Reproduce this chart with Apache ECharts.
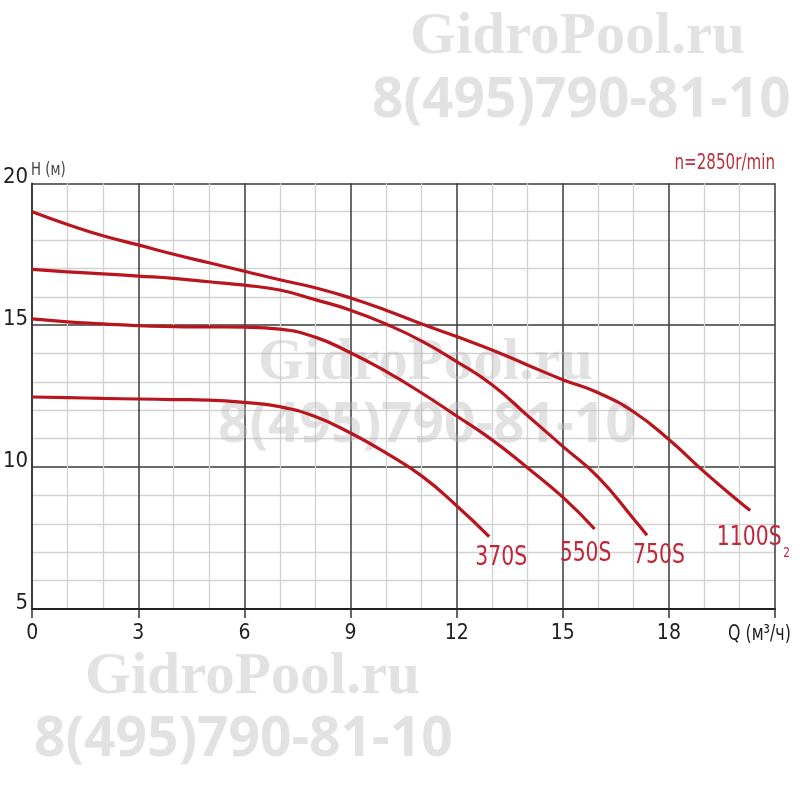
<!DOCTYPE html>
<html>
<head>
<meta charset="utf-8">
<script src="https://cdn.jsdelivr.net/npm/echarts@6/dist/echarts.min.js"></script>
<style>html,body{margin:0;padding:0;background:#fff}#c{width:800px;height:800px}</style>
</head>
<body>
<div id="c"></div>
<script>
// Q (m3/h), H (m)
var s1100 = [[0,19.0],[1,18.55],[2,18.15],[3,17.83],[4,17.5],[5,17.2],[6,16.9],[7,16.6],[8,16.32],[9,15.96],[10,15.53],[11,15.05],[12,14.6],[13,14.13],[14,13.6],[15,13.08],[16,12.62],[17,11.95],[18,10.97],[19,9.83],[20,8.77],[20.3,8.47]];
var s750 = [[0,16.97],[1,16.88],[2,16.81],[3,16.73],[4,16.65],[5,16.53],[6,16.41],[7,16.24],[8,15.9],[9,15.53],[10,15.04],[11,14.45],[12,13.72],[13,12.9],[14,11.82],[15,10.73],[16,9.65],[17,8.18],[17.38,7.6]];
var s550 = [[0,15.22],[1,15.12],[2,15.05],[3,14.98],[4,14.95],[5,14.94],[6,14.93],[7,14.86],[8,14.58],[9,14.03],[10,13.37],[11,12.62],[12,11.8],[13,10.96],[14,9.98],[15,8.94],[15.9,7.82]];
var s370 = [[0,12.47],[1,12.45],[2,12.42],[3,12.4],[4,12.38],[5,12.36],[6,12.28],[7,12.13],[8,11.78],[9,11.2],[10,10.5],[11,9.7],[12,8.64],[12.92,7.55]];
var seriesNames = ['370S','550S','750S','1100S'];
var subscript = '2';
var xTicks = [0,3,6,9,12,15,18,21];
var yTicks = [5,10,15,20];

var FONT = "'Liberation Sans Narrow','DejaVu Sans Condensed','Roboto Condensed',sans-serif";
var RED = '#b9151f';
var LABEL_RED = '#c0283a';

function curve(name, data) {
  return {
    name: name, type: 'line', data: data, smooth: 0.5, showSymbol: false, z: 3,
    lineStyle: { color: RED, width: 3.2 },
    emphasis: { disabled: true }
  };
}

var WM = 'rgba(185,185,185,0.42)';
function wm(text, x, y, serif) {
  return {
    type: 'text', x: x, y: y, z: 1, silent: true,
    style: {
      text: text, fill: WM, align: 'left', verticalAlign: 'middle',
      font: serif ? "bold 59px 'Liberation Serif','DejaVu Serif',serif" : "bold 55px 'Open Sans','DejaVu Sans',sans-serif"
    }
  };
}
function txt(text, x, y, size, color, align, sx) {
  return { type: 'text', x: x, y: y, z: 5, scaleX: sx, silent: true,
    style: { text: text, fill: color, font: size + 'px ' + FONT, align: align, verticalAlign: 'middle' } };
}

var chart = echarts.init(document.getElementById('c'), null, { renderer: 'canvas' });
chart.setOption({
  animation: false,
  backgroundColor: '#fff',
  grid: { left: 29.5, right: 25, top: 183.3, bottom: 191, containLabel: false },
  xAxis: {
    type: 'value', min: xTicks[0], max: xTicks[xTicks.length - 1], interval: 3,
    axisLine: { show: true, onZero: false, lineStyle: { color: '#222', width: 2.2 } },
    axisTick: { show: true, length: 9, lineStyle: { color: '#333', width: 1.5 } },
    axisLabel: { fontSize: 21, color: '#222', fontFamily: FONT, margin: 14,
      formatter: function (v) { return v === 21 ? '' : String(v); } },
    splitLine: { show: true, lineStyle: { color: '#3a3a3a', width: 1.5 } },
    minorTick: { show: false, splitNumber: 3 },
    minorSplitLine: { show: true, lineStyle: { color: '#d2d2d2', width: 1.3 } }
  },
  yAxis: {
    type: 'value', min: yTicks[0], max: yTicks[yTicks.length - 1], interval: 5,
    axisLine: { show: true, onZero: false, lineStyle: { color: '#333', width: 1.6 } },
    axisTick: { show: false },
    axisLabel: { fontSize: 22, color: '#222', fontFamily: FONT, margin: 4, verticalAlign: 'bottom', lineHeight: 12 },
    splitLine: { show: true, lineStyle: { color: '#3a3a3a', width: 1.5 } },
    minorTick: { show: false, splitNumber: 5 },
    minorSplitLine: { show: true, lineStyle: { color: '#d2d2d2', width: 1.3 } }
  },
  series: [
    curve(seriesNames[0], s370),
    curve(seriesNames[1], s550),
    curve(seriesNames[2], s750),
    curve(seriesNames[3], s1100)
  ]
});

// curve labels placed relative to each curve's last point (via the chart's own scales)
function endPx(arr) { return chart.convertToPixel({ gridIndex: 0 }, arr[arr.length - 1]); }
var p370 = endPx(s370), p550 = endPx(s550), p750 = endPx(s750), p1100 = endPx(s1100);
var LS = 0.84;
chart.setOption({
  graphic: {
    elements: [
      wm('GidroPool.ru', 410, 38, true),
      wm('8(495)790-81-10', 372, 101, false),
      wm('GidroPool.ru', 258, 364, true),
      wm('8(495)790-81-10', 218, 426, false),
      wm('GidroPool.ru', 85, 678, true),
      wm('8(495)790-81-10', 34, 740, false),
      txt('H (м)', 31, 170, 18, '#444', 'left', 0.82),
      txt('Q (м³/ч)', 728, 634, 22, '#222', 'left', 0.8),
      txt('n=2850r/min', 775, 164, 21, '#b8333f', 'right', 0.8),
      txt(seriesNames[0], p370[0] + 12, p370[1] + 21, 27, LABEL_RED, 'center', LS),
      txt(seriesNames[1], p550[0] - 9, p550[1] + 25, 27, LABEL_RED, 'center', LS),
      txt(seriesNames[2], p750[0] + 12, p750[1] + 21, 27, LABEL_RED, 'center', LS),
      txt(seriesNames[3], p1100[0] - 1, p1100[1] + 27, 27, LABEL_RED, 'center', LS),
      txt(subscript, p1100[0] + 33, p1100[1] + 43, 14, LABEL_RED, 'left', LS)
    ]
  }
});
</script>
</body>
</html>
